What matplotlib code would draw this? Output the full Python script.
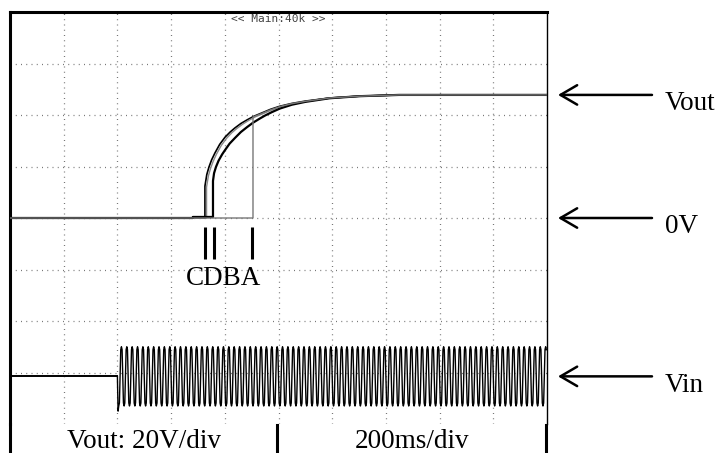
import numpy as np
import matplotlib.pyplot as plt
from matplotlib.lines import Line2D

W, H = 722, 453

# Vout traces, time in ms and voltage in V (20 V/div, 200 ms/div)
c_t = [0, 726, 726, 733, 741, 751, 763, 781, 801, 820, 838, 860, 883, 908, 938, 970, 1005, 1050, 1100, 1190, 1300, 1450, 2000]
c_v = [0, 0, 12.4, 16.9, 19.8, 22.6, 25.2, 28.6, 31.4, 33.4, 35.0, 36.7, 38.1, 39.5, 40.8, 42.2, 43.4, 44.5, 45.4, 46.6, 47.3, 47.8, 47.8]

b_t = [0, 732, 732, 739, 747, 757, 769, 787, 807, 826, 844, 866, 889, 914, 944, 976, 1010, 1055, 1105, 1195, 1300, 1450, 2000]
b_v = [0, 0, 12.0, 16.4, 19.3, 22.1, 24.8, 28.2, 31.0, 33.1, 34.7, 36.4, 37.9, 39.3, 40.6, 42.0, 43.3, 44.4, 45.3, 46.6, 47.3, 47.8, 47.8]

d_t = [0, 681, 681, 756, 756, 760, 767, 777, 790, 801, 818, 838, 860, 883, 905, 930, 950, 975, 1005, 1050, 1100, 1190, 1300, 1450, 2000]
d_v = [0, 0, 0.4, 0.4, 14.4, 17.4, 19.8, 22.3, 24.7, 26.4, 28.9, 31.1, 33.4, 35.3, 37.0, 38.6, 39.8, 41.1, 42.5, 44.0, 45.1, 46.5, 47.3, 47.8, 47.8]

a_t = [0, 905, 905, 938, 970, 1005, 1050, 1100, 1190, 1300, 1450, 2000]
a_v = [0, 0, 39.2, 40.6, 42.0, 43.2, 44.4, 45.3, 46.6, 47.3, 47.8, 47.8]

# rise markers for C, D and A
marker_t = [726, 758, 903]

# Vin channel: 50 Hz input switched on at 400 ms, drawn on the lower part of the screen
vin_level = -61.5
vin_amplitude = 11.5
vin_start = 400
vin_period = 20
vin_first_dip = -75.0
vin_cycle = [0.0, -0.9, -1.0, -0.9, 0.0, 0.9, 1.0, 0.9]

SERIF = 'Liberation Serif'
FS = 19.5

fig = plt.figure(figsize=(W / 100, H / 100), dpi=100)
left, top, right, bottom = 10, 12, 547, 424
ax = fig.add_axes([left / W, 1 - bottom / H, (right - left) / W, (bottom - top) / H])
ax.set_xlim(0, 2000)
ax.set_ylim(-80, 80)
ax.set_xticks([])
ax.set_yticks([])
for side in ('top', 'left'):
    ax.spines[side].set_linewidth(2.2)
ax.spines['right'].set_linewidth(1.0)
ax.spines['bottom'].set_visible(False)

# dotted graticule
grid_kw = dict(color='#777777', lw=0.9, linestyle=(0, (0.8, 3.4)), zorder=1)
for t in range(200, 2000, 200):
    ax.axvline(t, **grid_kw)
for v in range(-60, 80, 20):
    ax.axhline(v, **grid_kw)

# Vout traces
ax.plot(c_t, c_v, color='black', lw=1.2, zorder=3)
ax.plot(b_t, b_v, color='#8a8a8a', lw=1.0, zorder=3)
ax.plot(d_t, d_v, color='black', lw=1.6, zorder=3)
ax.plot(a_t, a_v, color='#777777', lw=1.0, zorder=3)

ax.vlines(marker_t, -15.9, -3.5, color='black', lw=2.2, zorder=3)
ax.text(655, -26.0, 'CDBA', family=SERIF, fontsize=FS, ha='left', va='baseline')

# Vin trace
n_cycles = int((2000 - vin_start) / vin_period)
step = vin_period / len(vin_cycle)
vin_t = [0, vin_start]
vin_v = [vin_level, vin_level]
k = 0
for c in range(n_cycles):
    for s in vin_cycle:
        vin_t.append(vin_start + k * step)
        vin_v.append(vin_level + s * vin_amplitude)
        k += 1
vin_v[3] = vin_first_dip
ax.plot(vin_t[:3], vin_v[:3], color='black', lw=1.4, zorder=3)
ax.plot(vin_t[2:], vin_v[2:], color='black', lw=1.0, zorder=3)

# header
ax.text(0.5, 0.983, '<< Main:40k >>', transform=ax.transAxes, family='DejaVu Sans Mono',
        fontsize=8, color='#444444', ha='center', va='center')

# side arrows and labels
labels = [('Vout', 47.8), ('0V', 0.0), ('Vin', vin_level)]
tip = (558 - left) / (right - left)
tail = (652 - left) / (right - left)
txt = (665 - left) / (right - left)
for name, yv in labels:
    ax.annotate('', xy=(tip, yv), xytext=(tail, yv),
                xycoords=('axes fraction', 'data'), textcoords=('axes fraction', 'data'),
                arrowprops=dict(arrowstyle='->, head_length=0.6, head_width=0.35',
                                lw=1.8, color='black', mutation_scale=20,
                                shrinkA=0, shrinkB=0))
    ax.annotate(name, xy=(txt, yv), xycoords=('axes fraction', 'data'),
                xytext=(0, -11), textcoords='offset points',
                family=SERIF, fontsize=FS, ha='left', va='baseline',
                annotation_clip=False)

# status bar under the screen
for x0, y0, x1, y1, lw in [(10, 424, 10, 453, 2.2), (277, 425, 277, 453, 2.2), (546, 425, 546, 453, 2.2)]:
    fig.add_artist(Line2D([x0 / W, x1 / W], [1 - y0 / H, 1 - y1 / H], color='black', lw=lw))
fig.text(144 / W, 1 - 448 / H, 'Vout: 20V/div', family=SERIF, fontsize=FS,
         ha='center', va='baseline')
fig.text(412 / W, 1 - 448 / H, '200ms/div', family=SERIF, fontsize=FS,
         ha='center', va='baseline')

fig.savefig('out.png', dpi=100)
